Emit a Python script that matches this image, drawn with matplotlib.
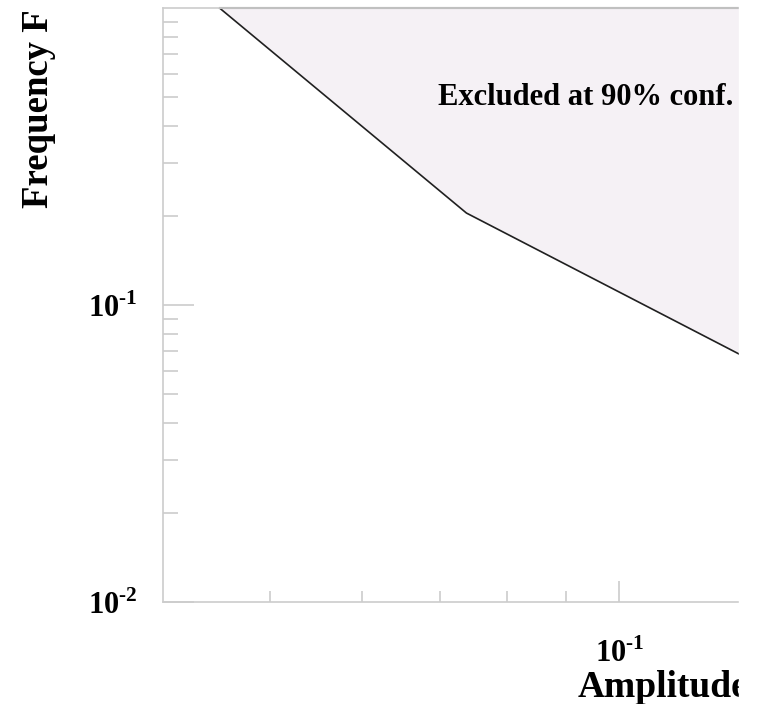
import matplotlib
matplotlib.use("Agg")
import matplotlib.pyplot as plt
from matplotlib.patches import Rectangle

# exclusion contour
amplitude = [0.0452, 0.0738, 0.1268]
frequency = [1.0, 0.204, 0.0684]

x_range = [0.0404, 0.1268]
y_range = [0.01, 1.0]

plt.rcParams['font.family'] = ['Liberation Serif', 'DejaVu Serif']
plt.rcParams['font.weight'] = 'bold'
plt.rcParams['mathtext.fontset'] = 'custom'
plt.rcParams['mathtext.rm'] = 'Liberation Serif:bold'
plt.rcParams['mathtext.bf'] = 'Liberation Serif:bold'

W, H = 760, 704
fig = plt.figure(figsize=(W / 100, H / 100), dpi=100)
ax = fig.add_axes([163 / W, 1 - 602 / H, (739 - 163) / W, (602 - 8) / H])
ax.set_xscale('log')
ax.set_yscale('log')
ax.set_xlim(*x_range)
ax.set_ylim(*y_range)

# excluded region, filled up to the top of the frame
ax.fill_between(amplitude, frequency, y_range[1], color='#f5f1f5', lw=0)
ax.plot(amplitude, frequency, color='#202020', lw=1.2)
ax.plot([amplitude[0], x_range[1]], [y_range[1], y_range[1]],
        color='#8a8a8a', lw=1.5, clip_on=False)

grey = '#cccccc'
for side in ['left', 'bottom', 'top']:
    ax.spines[side].set_color(grey)
    ax.spines[side].set_linewidth(1.2)
ax.spines['right'].set_visible(False)

ax.set_yticks([0.01, 0.1])
ax.set_yticklabels([r'$10^{\text{-2}}$', r'$10^{\text{-1}}$'], fontsize=22)
ax.set_xticks([0.1])
ax.set_xticklabels([r'$10^{\text{-1}}$'], fontsize=22)
ax.tick_params(axis='y', which='major', direction='in', length=22, color=grey,
               width=1.2, pad=18, right=False)
ax.tick_params(axis='y', which='minor', direction='in', length=11, color=grey,
               width=1.2, right=False)
ax.tick_params(axis='x', which='major', direction='in', length=15, color=grey,
               width=1.2, pad=26, top=False)
ax.tick_params(axis='x', which='minor', direction='in', length=8, color=grey,
               width=1.2, top=False)
ax.xaxis.set_minor_formatter(plt.NullFormatter())
ax.yaxis.set_minor_formatter(plt.NullFormatter())

fig.text(438 / W, 1 - 105 / H, 'Excluded at 90% conf.',
         ha='left', va='baseline', fontsize=22, fontweight='bold')

fig.text(578 / W, 1 - 697 / H, 'Amplitude', ha='left', va='baseline',
         fontsize=27, fontweight='bold')
fig.text(48 / W, 1 - 208 / H, 'Frequency F', rotation=90, rotation_mode='anchor',
         ha='left', va='baseline', fontsize=26.5, fontweight='bold')

# the source picture is cut off on the right
fig.add_artist(Rectangle((739 / W, 0), 1, 1, transform=fig.transFigure,
                         color='white', zorder=10))

fig.savefig('out.png', dpi=100)
